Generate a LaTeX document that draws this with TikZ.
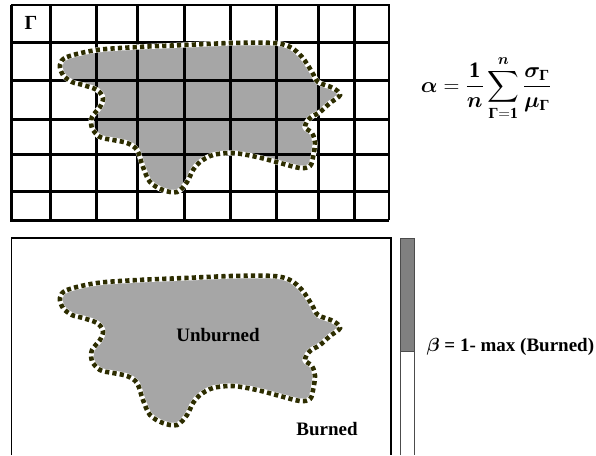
\documentclass[tikz,border=0pt]{standalone}
\usepackage{fix-cm}
\usepackage{amsmath,amssymb,bm}
\usepackage{fontspec}
\setmainfont{Liberation Serif}
\usepackage{tikz}
\usetikzlibrary{positioning}
\definecolor{blobgray}{RGB}{166,166,166}
\definecolor{bargray}{RGB}{128,128,128}
\definecolor{fireline}{RGB}{45,45,0}
\newcommand{\blobpath}{plot[smooth cycle,tension=0.55] coordinates {(60,65) (67,57) (97,50) (138,47) (185,45) (232,43) (273,43) (290,47) (302,57) (312,72) (318,82) (333,88) (340,95) (330,103) (320,112) (310,118) (305,127) (312,133) (315,143) (313,157) (310,166) (300,168) (280,163) (257,157) (233,153) (213,155) (200,162) (193,170) (187,182) (177,192) (163,190) (150,182) (143,167) (137,150) (127,143) (113,140) (100,137) (92,128) (92,117) (100,107) (103,98) (97,90) (83,85) (72,82) (63,75)}}
\newcommand{\Gbf}{\text{\bfseries Γ}}
\newcommand{\alphaformula}{$\displaystyle\bm{\alpha}=\frac{\mathbf{1}}{\bm{n}}\sum_{\Gbf\mathbf{=1}}^{\bm{n}}\frac{\bm{\sigma}_{\Gbf}}{\bm{\mu}_{\Gbf}}$}
\tikzset{
  gridline/.style={line width=3pt},
  halo/.style={white,line width=5.2pt},
  firefront/.style={fireline,line width=4.6pt,dash pattern=on 4.2pt off 3.2pt}
}

\begin{document}
\begin{tikzpicture}[x=1pt,y=-1pt,every node/.style={font=\bfseries\fontsize{19}{21}\selectfont}]
\useasboundingbox (0,0) rectangle (596,455);
% blob under the grid
\fill[blobgray] \blobpath;
\foreach \x in {50,96,137.5,184,230.7,276,318.3,354}
  \draw[gridline] (\x,5) -- (\x,220);
\foreach \y in {42.7,80.7,119,154.3,191.7}
  \draw[gridline] (11,\y) -- (389,\y);
\draw[line width=1.4pt] (11,5) -- (389,5) -- (389,220);
\draw[gridline] (11,5) -- (11,220) -- (389,220);
\draw[halo] \blobpath;
\draw[firefront] \blobpath;
\node[font=\bfseries\fontsize{20}{22}\selectfont] (gammalabel) at (31,23) {Γ};
\node[font=\bfseries\fontsize{22}{24}\selectfont] (alphaeq) at (486,88) {\alphaformula};
% lower panel
\draw[line width=1.4pt] (11.7,455) -- (11.7,238) -- (391,238) -- (391,455);
\begin{scope}[yshift=-233pt]
\fill[blobgray] \blobpath;
\draw[halo] \blobpath;
\draw[firefront] \blobpath;
\end{scope}
\node (unburned) at (218,335) {Unburned};
\node (burned) at (327,429) {Burned};
% beta bar
\fill[bargray] (400.7,238) rectangle (414.3,351.7);
\draw[black!70,line width=0.8pt] (400.7,455) -- (400.7,238) -- (414.3,238) -- (414.3,455) (400.7,351.7) -- (414.3,351.7);
\node[anchor=west] (betaeq) at (423,347) {$\bm{\beta}$ = 1- max (Burned)};
\end{tikzpicture}
\end{document}
